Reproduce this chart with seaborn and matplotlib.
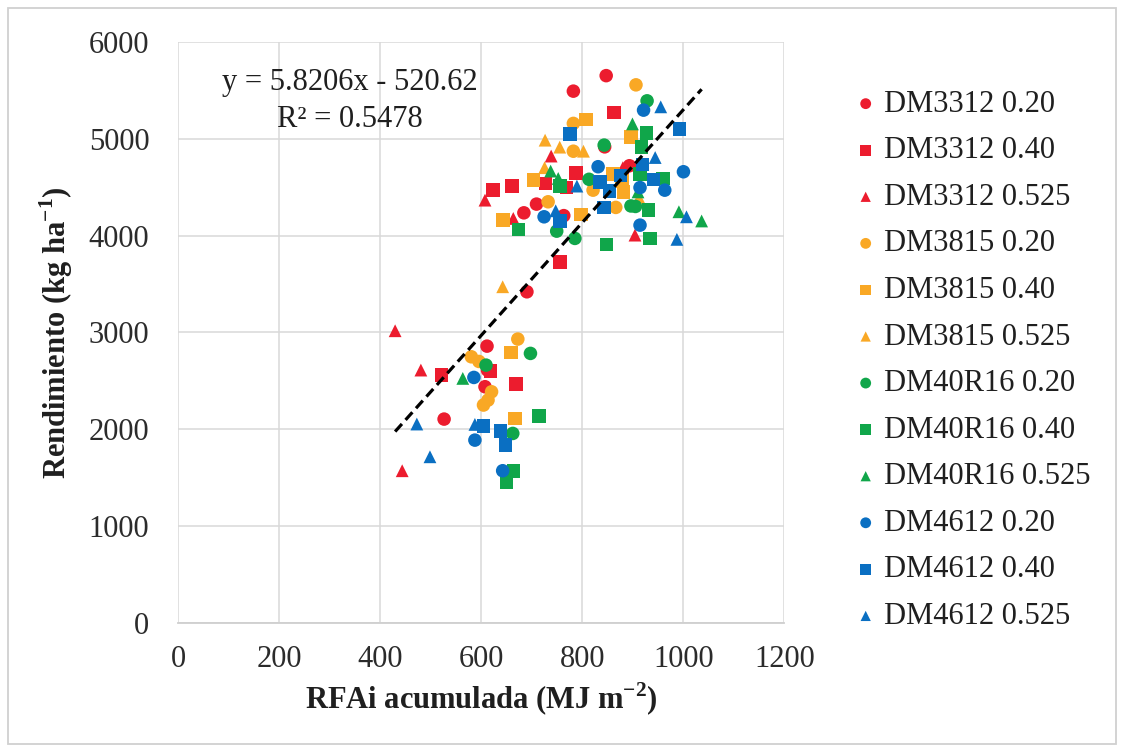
import numpy as np
import pandas as pd
import matplotlib
matplotlib.use("Agg")
import matplotlib.pyplot as plt
import matplotlib.patches as mpatches
import seaborn as sns

# ---------------- data ----------------
series_names = ["DM3312 0.20", "DM3312 0.40", "DM3312 0.525",
                "DM3815 0.20", "DM3815 0.40", "DM3815 0.525",
                "DM40R16 0.20", "DM40R16 0.40", "DM40R16 0.525",
                "DM4612 0.20", "DM4612 0.40", "DM4612 0.525"]

dm3312_020_x = [782, 847, 844, 893, 709, 684, 763, 690, 611, 607, 526, 612]
dm3312_020_y = [5490, 5650, 4915, 4720, 4324, 4234, 4205, 3419, 2858, 2439, 2105, 2610]

dm3312_040_x = [862, 787, 727, 660, 623, 768, 521, 668, 755, 618]
dm3312_040_y = [5270, 4645, 4535, 4510, 4468, 4495, 2559, 2466, 3729, 2600]

dm3312_0525_x = [738, 607, 663, 904, 429, 480, 443, 880]
dm3312_0525_y = [4820, 4365, 4176, 4004, 3017, 2611, 1572, 4700]

dm3815_020_x = [906, 782, 782, 732, 866, 821, 672, 580, 620, 613, 604, 595]
dm3815_020_y = [5555, 5157, 4870, 4348, 4290, 4468, 2931, 2748, 2387, 2301, 2250, 2700]

dm3815_040_x = [807, 896, 860, 881, 797, 703, 643, 658, 666, 878]
dm3815_040_y = [5195, 5015, 4635, 4451, 4215, 4572, 4159, 2790, 2112, 4560]

dm3815_0525_x = [726, 755, 802, 725, 642, 872, 912]
dm3815_0525_y = [4984, 4912, 4870, 4700, 3471, 4640, 4390]

dm40r16_020_x = [928, 843, 813, 896, 785, 749, 697, 609, 662, 905]
dm40r16_020_y = [5390, 4933, 4580, 4305, 3970, 4045, 2783, 2662, 1957, 4300]

dm40r16_040_x = [927, 917, 914, 960, 931, 934, 848, 755, 673, 714, 663, 650]
dm40r16_040_y = [5060, 4912, 4635, 4589, 4262, 3970, 3905, 4510, 4060, 2139, 1572, 1458]

dm40r16_0525_x = [899, 737, 752, 991, 1036, 563, 910]
dm40r16_0525_y = [5152, 4665, 4589, 4245, 4150, 2525, 4450]

dm4612_020_x = [921, 831, 1000, 963, 914, 914, 724, 585, 587, 642]
dm4612_020_y = [5294, 4710, 4658, 4468, 4495, 4107, 4193, 2535, 1888, 1572]

dm4612_040_x = [775, 992, 919, 941, 835, 854, 843, 756, 604, 638, 648, 875]
dm4612_040_y = [5050, 5098, 4735, 4580, 4550, 4460, 4290, 4150, 2035, 1980, 1837, 4620]

dm4612_0525_x = [955, 944, 1006, 987, 747, 789, 472, 587, 498]
dm4612_0525_y = [5328, 4805, 4193, 3960, 4255, 4510, 2054, 2050, 1716]

all_x = [dm3312_020_x, dm3312_040_x, dm3312_0525_x, dm3815_020_x, dm3815_040_x, dm3815_0525_x,
         dm40r16_020_x, dm40r16_040_x, dm40r16_0525_x, dm4612_020_x, dm4612_040_x, dm4612_0525_x]
all_y = [dm3312_020_y, dm3312_040_y, dm3312_0525_y, dm3815_020_y, dm3815_040_y, dm3815_0525_y,
         dm40r16_020_y, dm40r16_040_y, dm40r16_0525_y, dm4612_020_y, dm4612_040_y, dm4612_0525_y]

trend_coef = [5.8206, -520.62]
r_squared = 0.5478

x_ticks = [0, 200, 400, 600, 800, 1000, 1200]
y_ticks = [0, 1000, 2000, 3000, 4000, 5000, 6000]

# ---------------- style ----------------
sns.set_theme(style="white")
plt.rcParams['font.family'] = ['Liberation Serif', 'DejaVu Serif']
plt.rcParams['mathtext.fontset'] = 'custom'
plt.rcParams['mathtext.rm'] = 'Liberation Serif'
plt.rcParams['mathtext.bf'] = 'Liberation Serif:bold'
plt.rcParams['lines.scale_dashes'] = True

red, orange, green, blue = "#EC1C2E", "#F9A825", "#10A64A", "#0A6FC2"
colors = [red, red, red, orange, orange, orange, green, green, green, blue, blue, blue]
markers = ["o", "s", "^"] * 4
sizes = [95, 95, 85] * 4

frames = []
for name, xs, ys in zip(series_names, all_x, all_y):
    frames.append(pd.DataFrame({"RFAi": xs, "Rend": ys, "serie": name}))
df = pd.concat(frames, ignore_index=True)

fig = plt.figure(figsize=(11.24, 7.52), dpi=100)
ax = fig.add_axes([0.1588, 0.1715, 0.5391, 0.773])

for name, c, m, s in zip(series_names, colors, markers, sizes):
    sub = df[df["serie"] == name]
    sns.scatterplot(data=sub, x="RFAi", y="Rend", color=c, marker=m, s=s,
                    edgecolor="none", linewidth=0, label=name, ax=ax, zorder=3)

# trendline over data range
xmin, xmax = df["RFAi"].min(), df["RFAi"].max()
xl = np.array([xmin, xmax])
yl = np.polyval(trend_coef, xl)
sns.lineplot(x=xl, y=yl, ax=ax, color="black", linewidth=2.3, zorder=4,
             dashes=False, legend=False)
ax.lines[-1].set_dashes((3.2, 1.7))

ax.set_xlim(0, 1200)
ax.set_ylim(0, 6000)
ax.set_xticks(x_ticks)
ax.set_yticks(y_ticks)
ax.grid(True, color="#d9d9d9", linewidth=1.1, zorder=0)
ax.set_axisbelow(True)
for sp in ["top", "right", "left"]:
    ax.spines[sp].set_visible(False)
ax.spines["bottom"].set_color("#cfcfcf")
ax.spines["bottom"].set_linewidth(1.3)
ax.tick_params(axis="both", length=0, labelsize=22, colors="#2b2b2b")
ax.tick_params(axis="y", pad=21)
ax.tick_params(axis="x", pad=16)

ax.set_xlabel(r"RFAi acumulada (MJ m$^{\mathbf{-2}}$)", fontsize=22, fontweight="bold",
              color="#1f1f1f", labelpad=5)
ax.set_ylabel(r"Rendimiento (kg ha$^{\mathbf{-1}}$)", fontsize=22, fontweight="bold",
              color="#1f1f1f", labelpad=10)

ax.text(340, 5580, "y = 5.8206x - 520.62", fontsize=22, ha="center", va="center", color="#1f1f1f")
ax.text(340, 5200, "R\u00b2 = 0.5478", fontsize=22, ha="center", va="center", color="#1f1f1f")

handles, labels = ax.get_legend_handles_labels()
if ax.get_legend():
    ax.get_legend().remove()
fig.legend(handles[:12], labels[:12], loc="upper left", bbox_to_anchor=(0.743, 0.897),
           frameon=False, fontsize=22, handletextpad=0.0, labelspacing=0.575,
           markerscale=0.8, borderaxespad=0, handlelength=1.2, labelcolor="#1f1f1f")

fig.patches.append(mpatches.Rectangle((8 / 1124, 8 / 752), 1108 / 1124, 736 / 752,
                                      transform=fig.transFigure, fill=False,
                                      edgecolor="#d0d0d0", linewidth=1.3))

fig.savefig("out.png", dpi=100, facecolor="white")
